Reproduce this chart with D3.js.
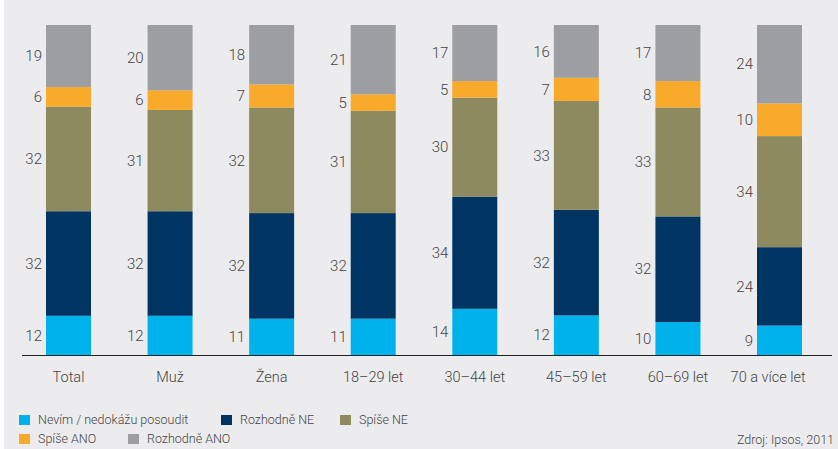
<!DOCTYPE html>
<html>
<head>
<meta charset="utf-8">
<script src="https://cdn.jsdelivr.net/npm/d3@7/dist/d3.min.js"></script>
<style>
  body { margin: 0; background: #fff; }
  text { font-family: "Roboto", "Liberation Sans Narrow", sans-serif; font-weight: 300; fill: #444; }
</style>
</head>
<body>
<script>
var w = 838, h = 449;

// categories along the x axis
var categories = ["Total", "Muž", "Žena", "18–29 let", "30–44 let", "45–59 let", "60–69 let", "70 a více let"];

// series, bottom to top
var seriesNames = ["Nevím / nedokážu posoudit", "Rozhodně NE", "Spíše NE", "Spíše ANO", "Rozhodně ANO"];
var nevim      = [12, 12, 11, 11, 14, 12, 10, 9];
var rozhodneNe = [32, 32, 32, 32, 34, 32, 32, 24];
var spiseNe    = [32, 31, 32, 31, 30, 33, 33, 34];
var spiseAno   = [6, 6, 7, 5, 5, 7, 8, 10];
var rozhodneAno = [19, 20, 18, 21, 17, 16, 17, 24];
var colors = ["#00b2eb", "#003462", "#8c8a5e", "#f9aa2a", "#9d9ea2"];

var source = "Zdroj: Ipsos, 2011";

var seriesVals = [nevim, rozhodneNe, spiseNe, spiseAno, rozhodneAno];
var table = categories.map(function(c, i) {
    var row = { cat: c };
    seriesNames.forEach(function(s, j) { row[s] = seriesVals[j][i]; });
    return row;
});

var svg = d3.select("body").append("svg")
    .attr("width", w)
    .attr("height", h);

// plot background
svg.append("rect")
    .attr("x", 4).attr("y", 0)
    .attr("width", w - 4).attr("height", h)
    .attr("fill", "#ececee");

var x = d3.scaleBand()
    .domain(categories)
    .range([46, 802])
    .paddingInner(0.557)
    .paddingOuter(0);

var y = d3.scaleLinear()
    .domain([0, 1])
    .range([355, 25]);

var stacked = d3.stack()
    .keys(seriesNames)
    .offset(d3.stackOffsetExpand)(table);

var layers = svg.selectAll("g.layer")
    .data(stacked)
    .enter()
    .append("g")
    .attr("class", "layer")
    .attr("fill", function(d, i) { return colors[i]; });

layers.selectAll("rect")
    .data(function(d) { return d; })
    .enter()
    .append("rect")
    .attr("x", function(d) { return x(d.data.cat); })
    .attr("y", function(d) { return y(d[1]); })
    .attr("width", x.bandwidth())
    .attr("height", function(d) { return y(d[0]) - y(d[1]); });

// value labels left of each segment
layers.selectAll("text")
    .data(function(d) { return d.map(function(p) { return { p: p, key: d.key }; }); })
    .enter()
    .append("text")
    .attr("x", function(d) { return x(d.p.data.cat) - 4; })
    .attr("y", function(d) { return (y(d.p[0]) + y(d.p[1])) / 2; })
    .attr("dy", "0.35em")
    .attr("text-anchor", "end")
    .attr("font-size", "15px")
    .text(function(d) { return d.p.data[d.key]; });

// baseline
svg.append("line")
    .attr("x1", 22).attr("x2", 832)
    .attr("y1", 355.5).attr("y2", 355.5)
    .attr("stroke", "#222")
    .attr("stroke-width", 1);

var xAxis = svg.append("g")
    .attr("transform", "translate(0,355)")
    .call(d3.axisBottom(x).tickSize(0).tickPadding(17));
xAxis.select(".domain").remove();
xAxis.selectAll("text")
    .attr("font-size", "14.5px")
    .attr("font-family", null)
    .attr("fill", null);

// keep the last label inside the chart edge
xAxis.selectAll(".tick").each(function() {
    var t = d3.select(this).select("text");
    var b = this.getBBox();
    var tr = d3.select(this).attr("transform");
    var tx = +tr.match(/translate\(([^,]+)/)[1];
    var right = tx + b.x + b.width;
    if (right > 806) t.attr("x", 806 - right);
});

// legend
var legendPos = [
    { x: 19, y: 415 }, { x: 221, y: 415 }, { x: 340, y: 415 },
    { x: 19, y: 434 }, { x: 128, y: 434 }
];
var legend = svg.selectAll("g.legend")
    .data(seriesNames)
    .enter()
    .append("g")
    .attr("class", "legend")
    .attr("transform", function(d, i) { return "translate(" + legendPos[i].x + "," + legendPos[i].y + ")"; });

legend.append("rect")
    .attr("width", 11).attr("height", 10)
    .attr("fill", function(d, i) { return colors[i]; });

legend.append("text")
    .attr("x", 19)
    .attr("y", 5)
    .attr("dy", "0.35em")
    .attr("font-size", "12.5px")
    .text(function(d) { return d; });

svg.append("text")
    .attr("x", 834)
    .attr("y", 444)
    .attr("text-anchor", "end")
    .attr("font-size", "12.5px")
    .text(source);
</script>
</body>
</html>
